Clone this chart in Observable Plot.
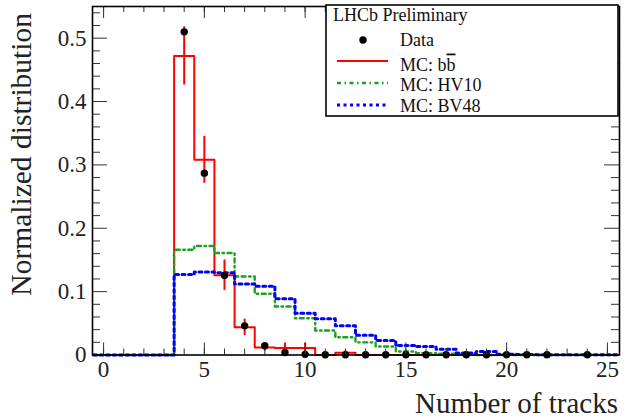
<!DOCTYPE html>
<html>
<head>
<meta charset="utf-8">
<script src="https://cdn.jsdelivr.net/npm/d3@7"></script>
<script src="https://cdn.jsdelivr.net/npm/@observablehq/plot@0.6"></script>
<style>
  html, body { margin: 0; padding: 0; background: #fff; }
  #chart svg { display: block; }
  #chart svg text { font-family: 'Liberation Serif', 'Times New Roman', serif !important; font-variant: normal !important; }
</style>
</head>
<body>
<div id="chart"></div>
<script>
// ---- data ----
const tracks = [0,1,2,3,4,5,6,7,8,9,10,11,12,13,14,15,16,17,18,19,20,21,22,23,24,25];
const bbValues   = [0,0,0,0,0.472,0.308,0.126,0.0436,0.012,0.011,0.011,0,0.0035,0,0,0,0,0,0,0,0,0,0,0,0,0];
const bbErrors   = [0,0,0,0,0.046,0.037,0.024,0.013,0.006,0.008,0.008,0,0.003,0,0,0,0,0,0,0,0,0,0,0,0,0];
const hv10Values = [0,0,0,0,0.166,0.172,0.161,0.124,0.0966,0.0765,0.058,0.0387,0.028,0.020,0.0135,0.0055,0.003,0.002,0.0007,0,0,0,0,0,0,0];
const bv48Values = [0,0,0,0,0.127,0.131,0.130,0.112,0.1085,0.0887,0.066,0.0571,0.046,0.031,0.023,0.015,0.0135,0.009,0.003,0.0055,0.001,0.0006,0.0005,0.0005,0.0005,0.0005];
const dataTracks = [4,5,6,7,8,9,10,11,12,13,14,15,16,17,18,19,20,21,22,24];
const dataValues = [0.510,0.287,0.1255,0.046,0.0146,0.004,0.001,0.0005,0.0005,0.0005,0.0005,0.0005,0.0005,0.0005,0.0005,0.0005,0.0005,0.0005,0.0005,0.0005];
const xMajorTicks = [0,5,10,15,20,25];
const xMinorTicks = tracks;
const yMajorTicks = [0,0.1,0.2,0.3,0.4,0.5];
const yTickLabels = ["0","0.1","0.2","0.3","0.4","0.5"];
const yMinorTicks = [0.02,0.04,0.06,0.08,0.12,0.14,0.16,0.18,0.22,0.24,0.26,0.28,0.32,0.34,0.36,0.38,0.42,0.44,0.46,0.48,0.52,0.54];
const legendHeader = "LHCb Preliminary";
const xTitle = "Number of tracks";
const yTitle = "Normalized distribution";

// ---- layout ----
const W = 635, H = 419;
const mL = 92, mR = 16, mT = 6, mB = 64.5;
const pw = W - mL - mR, ph = H - mT - mB;
const FONT = "'Liberation Serif', 'Times New Roman', serif";

function steps(vals) {
  const rows = tracks.map((t, i) => ({x: t - 0.5, y: vals[i]}));
  rows.push({x: tracks[tracks.length - 1] + 0.5, y: vals[vals.length - 1]});
  return rows;
}
const bbErrRows = tracks.map((t, i) => ({x: t, y1: bbValues[i] - bbErrors[i], y2: bbValues[i] + bbErrors[i]}))
  .filter(d => d.y2 - d.y1 > 0);
const dataRows = dataTracks.map((t, i) => ({x: t, y: dataValues[i]}));
const yLabelRows = yMajorTicks.map((v, i) => ({y: v, label: yTickLabels[i]}));

const RED = "#ff0000", GREEN = "#1ea01e", BLUE = "#0000ff";
const GREEN_DASH = "4,3.5,1.5,3.5", BLUE_DASH = "3,3.5";
const GREEN_W = 2.4, BLUE_W = 3;

const plot = Plot.plot({
  width: W, height: H,
  marginLeft: mL, marginRight: mR, marginTop: mT, marginBottom: mB,
  style: {fontFamily: FONT, background: "#fff"},
  x: {domain: [-0.55, 25.6], axis: null},
  y: {domain: [0, 0.55], axis: null},
  marks: [
    // histograms
    Plot.line(steps(bbValues), {x: "x", y: "y", curve: "step-after", stroke: RED, strokeWidth: 2}),
    Plot.ruleX(bbErrRows, {x: "x", y1: "y1", y2: "y2", stroke: RED, strokeWidth: 2}),
    Plot.line(steps(hv10Values), {x: "x", y: "y", curve: "step-after", stroke: GREEN, strokeWidth: GREEN_W, strokeDasharray: GREEN_DASH}),
    Plot.line(steps(bv48Values), {x: "x", y: "y", curve: "step-after", stroke: BLUE, strokeWidth: BLUE_W, strokeDasharray: BLUE_DASH}),
    Plot.dot(dataRows, {x: "x", y: "y", r: 3.7, fill: "black"}),
    // ticks (ROOT style, inward, on all four sides)
    Plot.tickX(xMajorTicks, {x: d => d, insetTop: ph - 12, stroke: "#333", strokeWidth: 1}),
    Plot.tickX(xMinorTicks, {x: d => d, insetTop: ph - 6, stroke: "#333", strokeWidth: 1}),
    Plot.tickX(xMajorTicks, {x: d => d, insetBottom: ph - 12, stroke: "#333", strokeWidth: 1}),
    Plot.tickX(xMinorTicks, {x: d => d, insetBottom: ph - 6, stroke: "#333", strokeWidth: 1}),
    Plot.tickY(yMajorTicks, {y: d => d, insetRight: pw - 15, stroke: "#333", strokeWidth: 1}),
    Plot.tickY(yMinorTicks, {y: d => d, insetRight: pw - 8, stroke: "#333", strokeWidth: 1}),
    Plot.tickY(yMajorTicks, {y: d => d, insetLeft: pw - 15, stroke: "#333", strokeWidth: 1}),
    Plot.tickY(yMinorTicks, {y: d => d, insetLeft: pw - 8, stroke: "#333", strokeWidth: 1}),
    Plot.frame({stroke: "black", strokeWidth: 1.6}),
    // tick labels
    Plot.text(xMajorTicks, {x: d => d, frameAnchor: "bottom", lineAnchor: "top", dy: 6, text: d => String(d),
      fontSize: 23, fontFamily: FONT, fill: "#222"}),
    Plot.text(yLabelRows, {y: "y", text: "label", frameAnchor: "left", textAnchor: "end", dx: -6,
      fontSize: 23, fontFamily: FONT, fill: "#222"})
  ]
});

document.getElementById("chart").appendChild(plot);

// ---- titles & legend (appended into the same SVG) ----
const svg = d3.select(plot);

svg.append("text").attr("x", 618).attr("y", 413).attr("text-anchor", "end")
  .attr("font-size", 29).attr("fill", "#222").text(xTitle);
svg.append("text").attr("transform", "translate(31,13) rotate(-90)").attr("text-anchor", "end")
  .attr("font-size", 29.5).attr("fill", "#222").text(yTitle);

const lg = svg.append("g").attr("font-size", 18).attr("fill", "#111").attr("text-anchor", "start");
lg.append("rect").attr("x", 326).attr("y", 5).attr("width", 292).attr("height", 111)
  .attr("fill", "white").attr("stroke", "black").attr("stroke-width", 1.6);
lg.append("text").attr("x", 333).attr("y", 21).text(legendHeader);
lg.append("circle").attr("cx", 363).attr("cy", 40).attr("r", 3.7).attr("fill", "black");
lg.append("text").attr("x", 400).attr("y", 46).text("Data");
lg.append("line").attr("x1", 337).attr("x2", 388).attr("y1", 61).attr("y2", 61).attr("stroke", RED).attr("stroke-width", 2);
const t2 = lg.append("text").attr("x", 400).attr("y", 70.5);
t2.append("tspan").text("MC: b");
t2.append("tspan").attr("text-decoration", "overline").style("text-decoration", "overline").text("b");
lg.append("line").attr("x1", 337).attr("x2", 388).attr("y1", 83).attr("y2", 83).attr("stroke", GREEN).attr("stroke-width", GREEN_W).attr("stroke-dasharray", GREEN_DASH);
lg.append("text").attr("x", 400).attr("y", 90.5).text("MC: HV10");
lg.append("line").attr("x1", 337).attr("x2", 388).attr("y1", 105).attr("y2", 105).attr("stroke", BLUE).attr("stroke-width", BLUE_W).attr("stroke-dasharray", BLUE_DASH);
lg.append("text").attr("x", 400).attr("y", 111.5).text("MC: BV48");
</script>
</body>
</html>
